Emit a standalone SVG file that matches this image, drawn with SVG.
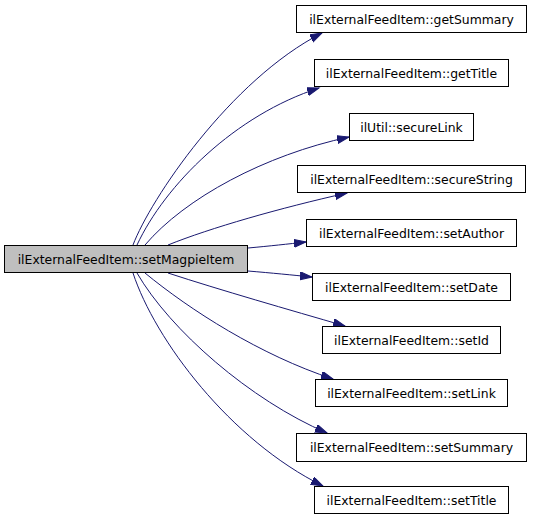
<svg xmlns="http://www.w3.org/2000/svg" width="533" height="520" viewBox="0 0 533 520">
<style>
.n rect{fill:#ffffff;stroke:#000000;stroke-width:1}
.n.main rect{fill:#bfbfbf}
.n text{font-family:"DejaVu Sans",sans-serif;font-size:12.4px;fill:#000000;text-anchor:middle}
.e path{fill:none;stroke:#191970;stroke-width:1}
</style>
<defs>
<marker id="ah" markerUnits="userSpaceOnUse" markerWidth="14" markerHeight="10" refX="12" refY="4" orient="auto">
<path d="M0,0 L12,4 L0,8 z" fill="#191970" stroke="#191970" stroke-width="1"/>
</marker>
</defs>
<rect width="533" height="520" fill="#ffffff"/>
<g id="edges" class="e">
<path marker-end="url(#ah)" d="M133,245 C150,200 230,80 322,33"/>
<path marker-end="url(#ah)" d="M137,245 C165,185 235,115 319,88"/>
<path marker-end="url(#ah)" d="M145,245 C185,198 265,155 349,137"/>
<path marker-end="url(#ah)" d="M168,245 C210,228 280,208 347,193"/>
<path marker-end="url(#ah)" d="M248,248 C270,246 288,244 306,242"/>
<path marker-end="url(#ah)" d="M248,271 C272,273 292,275 312,277"/>
<path marker-end="url(#ah)" d="M168,273 C220,290 290,310 345,326"/>
<path marker-end="url(#ah)" d="M145,273 C190,310 260,355 333,379"/>
<path marker-end="url(#ah)" d="M137,273 C170,330 250,400 327,433"/>
<path marker-end="url(#ah)" d="M133,273 C155,340 230,440 323,486"/>
</g>
<g id="node_setMagpieItem" class="n main"><rect x="4.5" y="245.5" width="243" height="27"/><text x="126" y="263.5">ilExternalFeedItem::setMagpieItem</text></g>
<g id="node_getSummary" class="n"><rect x="296.5" y="5.5" width="230" height="27"/><text x="411.5" y="23.5">ilExternalFeedItem::getSummary</text></g>
<g id="node_getTitle" class="n"><rect x="314.5" y="59.5" width="194" height="27"/><text x="411.5" y="77.5">ilExternalFeedItem::getTitle</text></g>
<g id="node_secureLink" class="n"><rect x="349.5" y="113.5" width="124" height="27"/><text x="411.5" y="131.5">ilUtil::secureLink</text></g>
<g id="node_secureString" class="n"><rect x="297.5" y="165.5" width="228" height="27"/><text x="411.5" y="183.5">ilExternalFeedItem::secureString</text></g>
<g id="node_setAuthor" class="n"><rect x="306.5" y="219.5" width="210" height="27"/><text x="411.5" y="237.5">ilExternalFeedItem::setAuthor</text></g>
<g id="node_setDate" class="n"><rect x="312.5" y="273.5" width="198" height="27"/><text x="411.5" y="291.5">ilExternalFeedItem::setDate</text></g>
<g id="node_setId" class="n"><rect x="322.5" y="326.5" width="178" height="27"/><text x="411.5" y="344.5">ilExternalFeedItem::setId</text></g>
<g id="node_setLink" class="n"><rect x="315.5" y="379.5" width="192" height="27"/><text x="411.5" y="397.5">ilExternalFeedItem::setLink</text></g>
<g id="node_setSummary" class="n"><rect x="296.5" y="433.5" width="230" height="28"/><text x="411.5" y="452">ilExternalFeedItem::setSummary</text></g>
<g id="node_setTitle" class="n"><rect x="314.5" y="486.5" width="194" height="27"/><text x="411.5" y="504.5">ilExternalFeedItem::setTitle</text></g>
</svg>
